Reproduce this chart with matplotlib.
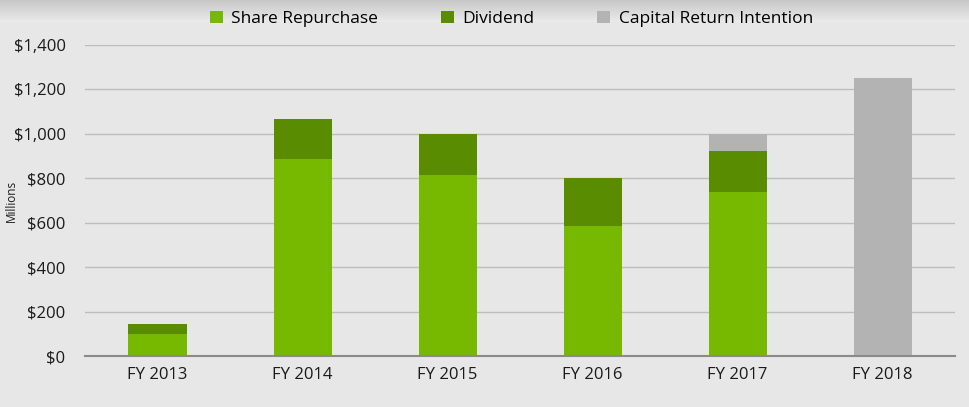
import numpy as np
import matplotlib.pyplot as plt

# Capital return by fiscal year, $ millions
years = ["FY 2013", "FY 2014", "FY 2015", "FY 2016", "FY 2017", "FY 2018"]
share_repurchase = [100, 887, 814, 587, 739, 0]
dividend = [44, 181, 186, 213, 185, 0]
intention = [0, 0, 0, 0, 76, 1250]
yticks = [0, 200, 400, 600, 800, 1000, 1200, 1400]
ytick_labels = ["$0", "$200", "$400", "$600", "$800", "$1,000", "$1,200", "$1,400"]

plt.rcParams['font.family'] = ['Open Sans', 'DejaVu Sans']

fig = plt.figure(figsize=(9.69, 4.07), dpi=100)
fig.patch.set_facecolor('#e6e6e6')

# soft shadow along the top edge
bg = fig.add_axes([0, 0, 1, 1], zorder=-10)
grad = np.ones((407, 1))
grad[:22, 0] = np.linspace(0.76, 0.905, 22) ** 0.9
grad[22:, 0] = 0.905
bg.imshow(grad, aspect='auto', cmap='gray', vmin=0, vmax=1, extent=[0, 1, 0, 1])
bg.axis('off')

ax = fig.add_axes([0.0877, 0.1253, 0.898, 0.7641])
ax.set_facecolor('none')

x = np.arange(len(years))
w = 0.4
sr = np.array(share_repurchase)
dv = np.array(dividend)
ax.bar(x, sr, w, color='#76b900', label='Share Repurchase', zorder=3)
ax.bar(x, dv, w, bottom=sr, color='#5a8c00', label='Dividend', zorder=3)
ax.bar(x, intention, w, bottom=sr + dv, color='#b3b3b3', label='Capital Return Intention', zorder=3)

ax.set_xlim(-0.5, len(years) - 0.5)
ax.set_ylim(0, 1400)
ax.set_yticks(yticks)
ax.set_yticklabels(ytick_labels)
ax.set_xticks(x)
ax.set_xticklabels(years)
ax.tick_params(axis='both', length=0, labelsize=12, colors='#1a1a1a')
ax.tick_params(axis='y', pad=14)
ax.tick_params(axis='x', pad=8)
ax.yaxis.grid(True, color='#bdbdbd', linewidth=1, zorder=0)
for s in ['top', 'right', 'left']:
    ax.spines[s].set_visible(False)
ax.spines['bottom'].set_color('#8a8a8a')
ax.spines['bottom'].set_linewidth(1.5)
ax.spines['bottom'].set_zorder(4)

ax.set_ylabel("Millions", fontsize=8.5, color='#1a1a1a', labelpad=2)
ax.yaxis.set_label_coords(-0.077, 0.5)

ax.legend(loc='lower center', bbox_to_anchor=(0.49, 1.035), ncol=3, frameon=False,
          fontsize=12.5, handlelength=0.75, handleheight=0.75, columnspacing=3.6,
          handletextpad=0.5, borderaxespad=0)

fig.savefig("out.png", dpi=100, facecolor=fig.get_facecolor())
